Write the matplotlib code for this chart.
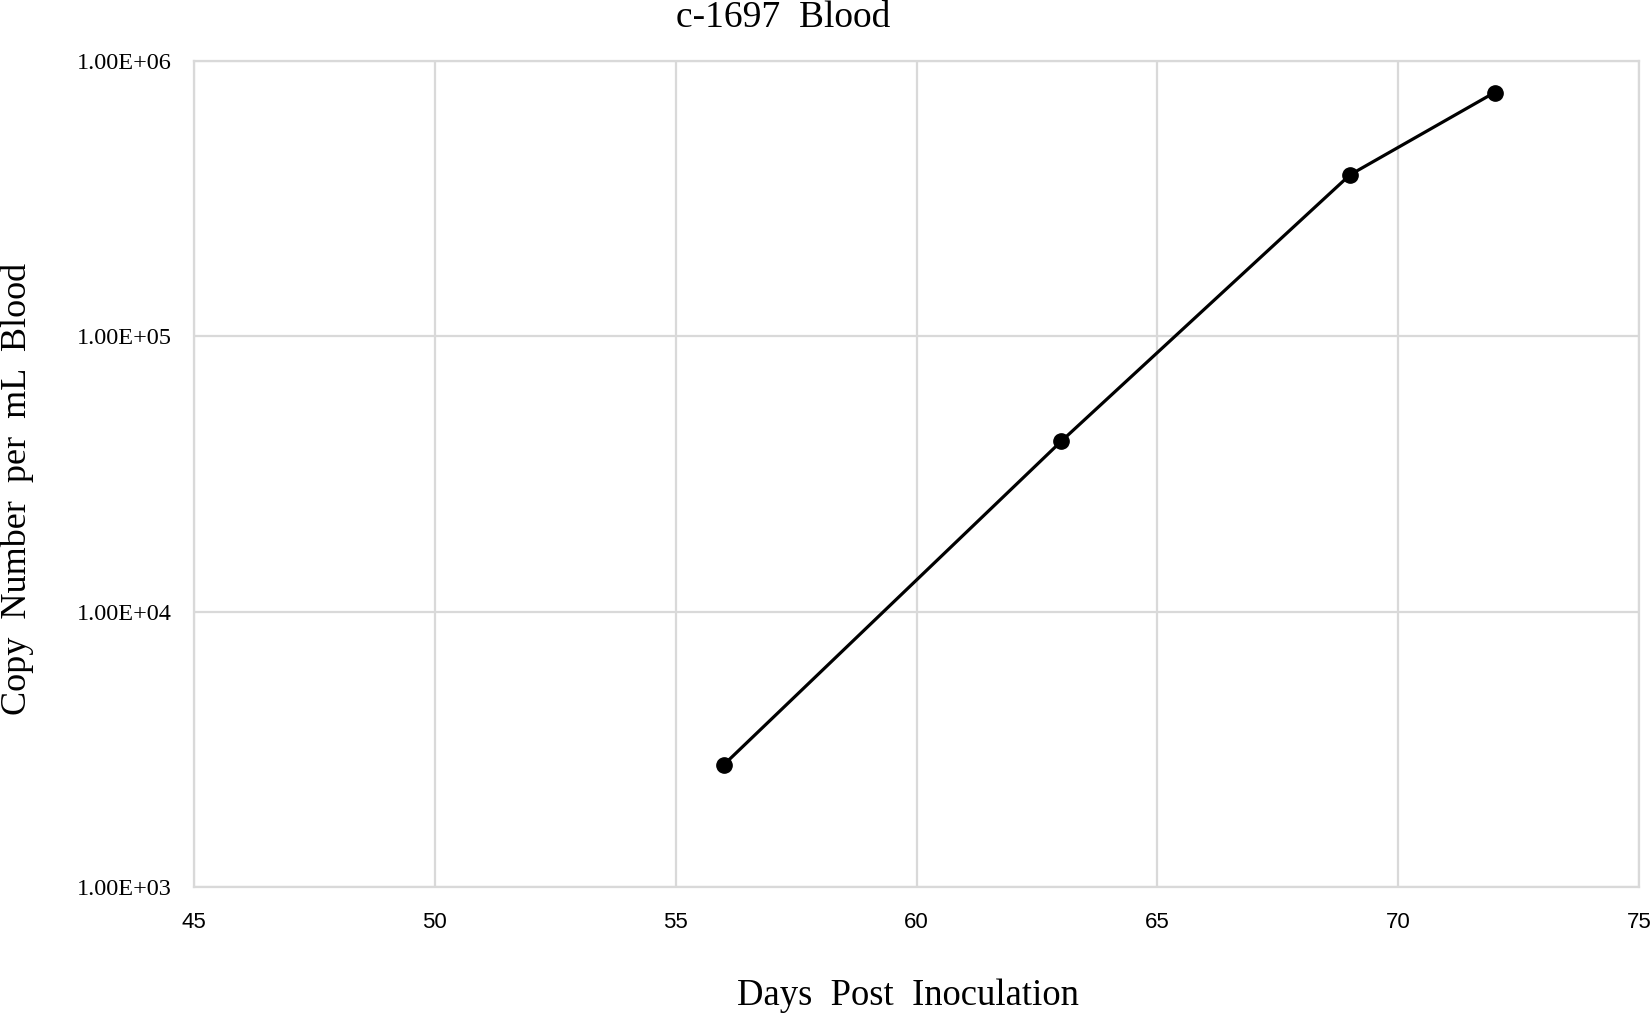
import matplotlib
matplotlib.use("Agg")
import matplotlib.pyplot as plt
from matplotlib.ticker import FixedLocator, NullLocator, FuncFormatter

days = [56, 63, 69, 72]
copies = [2.78e3, 4.15e4, 3.86e5, 7.68e5]

x_ticks = [45, 50, 55, 60, 65, 70, 75]
y_ticks = [1e3, 1e4, 1e5, 1e6]

W, H = 1652, 1014
fig = plt.figure(figsize=(W / 100, H / 100), dpi=100)
ax = fig.add_axes([194 / W, 1 - 887 / H, (1639 - 194) / W, (887 - 61) / H])

grid = "#d9d9d9"
ax.set_yscale("log")
ax.set_xlim(45, 75)
ax.set_ylim(1e3, 1e6)
ax.xaxis.set_major_locator(FixedLocator(x_ticks))
ax.yaxis.set_major_locator(FixedLocator(y_ticks))
ax.yaxis.set_minor_locator(NullLocator())
ax.yaxis.set_major_formatter(FuncFormatter(lambda v, pos: "{:.2E}".format(v)))
ax.grid(True, color=grid, linewidth=1.6)
ax.set_axisbelow(True)
for side, sp in ax.spines.items():
    sp.set_color(grid)
    sp.set_linewidth(1.6)
ax.tick_params(length=0)
ax.tick_params(axis="x", pad=18, labelsize=16)
ax.tick_params(axis="y", pad=16, labelsize=17.5)
for lab in ax.get_xticklabels():
    lab.set_fontfamily("Liberation Sans")
for lab in ax.get_yticklabels():
    lab.set_fontfamily("Liberation Serif")

ax.plot(days, copies, color="black", linewidth=2.3, marker="o",
        markersize=11, clip_on=False, zorder=3)

serif = "Liberation Serif"
fig.text(783 / W, 1 - 27 / H, "c-1697  Blood", ha="center", va="baseline",
         fontsize=27, family=serif)
fig.text(908 / W, 1 - 1005 / H, "Days  Post  Inoculation", ha="center",
         va="baseline", fontsize=26.4, family=serif)
fig.text(17 / W, 1 - 489 / H, "Copy  Number  per  mL  Blood", ha="center",
         va="center", rotation=90, fontsize=26, family=serif)

fig.savefig("out.png", dpi=100)
